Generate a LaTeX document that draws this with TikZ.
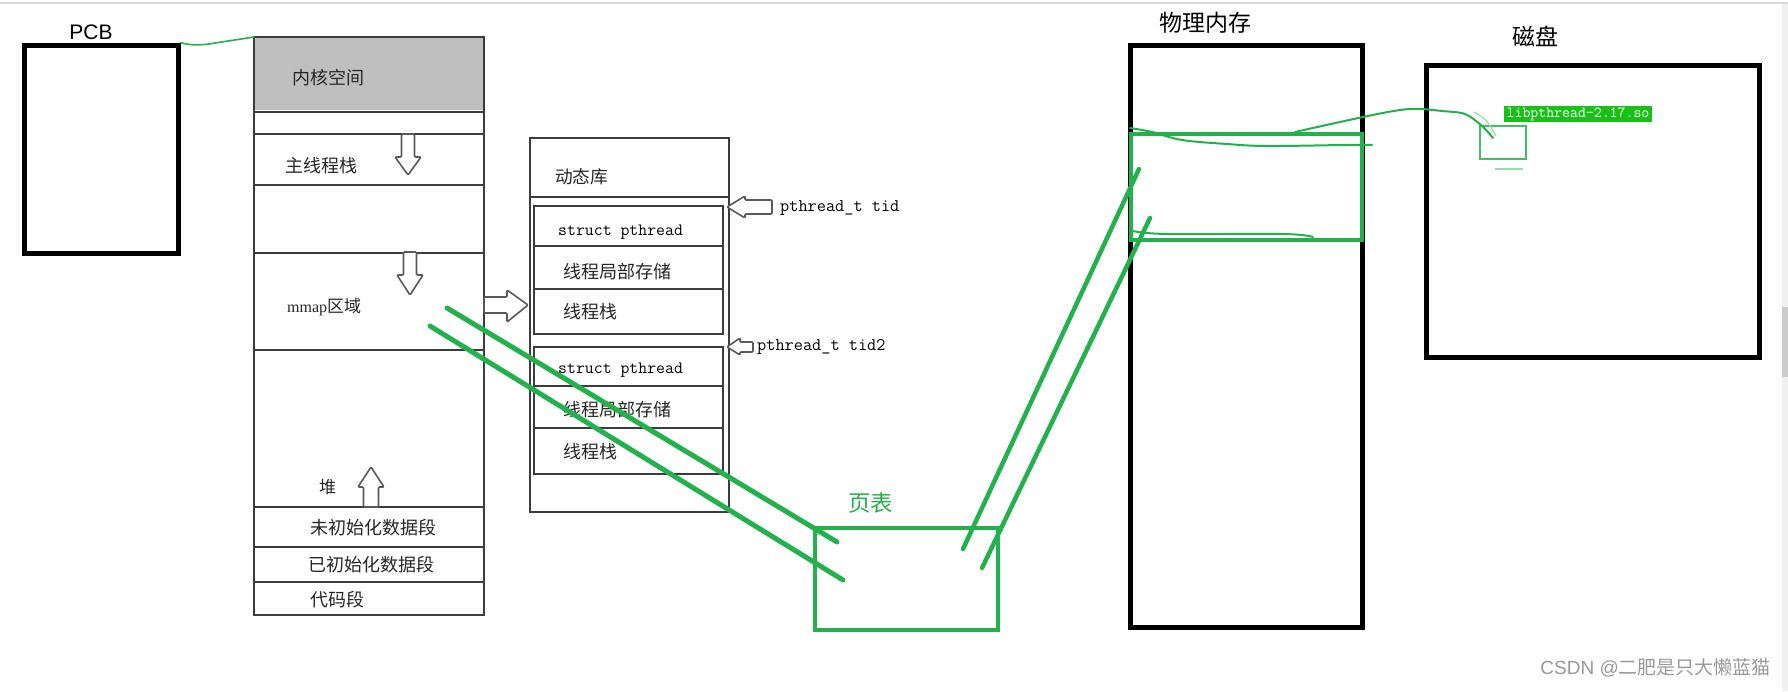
\documentclass[tikz,border=0pt]{standalone}
\usepackage{fontspec}
\setmainfont{Liberation Serif}
\setsansfont{Liberation Sans}
\newfontfamily\cjk{Noto Sans CJK SC}
\definecolor{pgreen}{RGB}{34,177,76}
\definecolor{lblgreen}{RGB}{24,192,24}
\definecolor{faintg}{RGB}{150,220,165}
\definecolor{scangray}{RGB}{60,60,60}
\begin{document}
\begin{tikzpicture}[x=1pt,y=-1pt,
  cn/.style={font=\cjk\fontsize{#1}{#1}\selectfont, text=black!85, inner sep=0pt, anchor=west},
  cn/.default=18,
  mono/.style={font=\ttfamily\fontsize{17.3}{18}\selectfont, text=black, inner sep=0pt, anchor=west},
  scan/.style={draw=scangray, line width=1.8pt},
  harrow/.style={draw=black!65, line width=1.6pt, fill=white, line join=round, rounded corners=1pt},
  thickbox/.style={draw=black, line width=5pt, inner sep=0pt},
  gline/.style={draw=pgreen, line width=4.5pt, line cap=round},
  gthin/.style={draw=pgreen, line width=2pt, line cap=round, line join=round},
  gbox/.style={draw=pgreen, line width=4.5pt, inner sep=0pt},
  head/.style={font=\cjk\fontsize{23}{24}\selectfont, inner sep=0pt}
]
\useasboundingbox (0,0) rectangle (1788,691);
\fill[white] (0,0) rectangle (1788,691);
\draw[black!15, line width=1.5pt] (0,3) -- (1788,3);
\fill[black!6] (1782,4) rectangle (1788,691);
\fill[black!20] (1782,307) rectangle (1788,377);

% ---------- PCB ----------
\node[thickbox, minimum width=154pt, minimum height=208pt] (pcb) at (101,149) {};
\node[font=\sffamily\fontsize{21}{22}\selectfont, inner sep=0pt] (pcbl) at (91,32) {PCB};

% ---------- virtual address space ----------
\fill[black!25] (254,38) rectangle (483,110);
\draw[scan] (254,37) rectangle (484,615);
\draw[scangray, line width=2.6pt] (254,37) -- (484,37);
\foreach \yy in {112,134,185,253,350,507,547,582}
  \draw[scan] (254,\yy) -- (484,\yy);
\coordinate (vtop) at (254,37);
\draw[gthin, line width=1.6pt] (pcb.north east) .. controls (190,46) and (205,45) .. (215,43) -- (vtop);

\node[cn] (kern) at (292,78) {内核空间};
\node[cn] (mstack) at (285,166) {主线程栈};
\node[inner sep=0pt, anchor=west, text=black!85] (mmap) at (287,307)
  {\fontsize{16}{17}\selectfont mmap\cjk\fontsize{17}{17}\selectfont 区域};
\node[cn=17] (heap) at (319,487) {堆};
\node[cn] (bss) at (310,528) {未初始化数据段};
\node[cn] (data) at (308,565) {已初始化数据段};
\node[cn] (text) at (310,600) {代码段};

% hollow arrows
\draw[harrow] (401.5,134) -- (414.5,134) -- (414.5,157) -- (421,157) -- (408,175) -- (395,157) -- (401.5,157) -- cycle;
\draw[harrow] (403.5,252) -- (416.5,252) -- (416.5,275) -- (423,275) -- (410,295) -- (397,275) -- (403.5,275) -- cycle;
\draw[harrow] (363.5,507) -- (378.5,507) -- (378.5,487) -- (384,487) -- (371,467) -- (358,487) -- (363.5,487) -- cycle;
\draw[harrow] (484,297) -- (507,297) -- (507,290) -- (528,305) -- (507,322) -- (507,313) -- (484,313) -- cycle;

% ---------- dynamic library ----------
\draw[scan] (530,138) rectangle (729,512);
\draw[scan] (530,197) -- (729,197);
\draw[scan] (534,206) rectangle (723,334);
\draw[scan] (534,246) -- (723,246);
\draw[scan] (534,289) -- (723,289);
\draw[scan] (534,347) rectangle (723,474);
\draw[scan] (534,386) -- (723,386);
\draw[scan] (534,428) -- (723,428);

\node[cn=17.7] (dyn) at (555,177) {动态库};
\node[mono] (sp1) at (558,232) {struct pthread};
\node[cn] (tls1) at (563,272) {线程局部存储};
\node[cn] (ts1) at (563,312) {线程栈};
\node[mono] (sp2) at (558,370) {struct pthread};
\node[cn] (tls2) at (563,410) {线程局部存储};
\node[cn] (ts2) at (563,452) {线程栈};

\draw[harrow] (727,207) -- (745,196) -- (745,200) -- (772,200) -- (772,214) -- (745,214) -- (745,218) -- cycle;
\draw[harrow] (727,347) -- (740,338) -- (740,342) -- (753,342) -- (753,352) -- (740,352) -- (740,355) -- cycle;
\node[mono, font=\ttfamily\fontsize{17.8}{18}\selectfont] (tid1) at (780,208) {pthread\_t tid};
\node[mono, font=\ttfamily\fontsize{17.8}{18}\selectfont] (tid2) at (757,347) {pthread\_t tid2};

% ---------- page table ----------
\node[gbox, minimum width=183pt, minimum height=102pt] (pt) at (906.5,579) {};
\node[font=\cjk\fontsize{22.5}{23}\selectfont, text=pgreen, inner sep=0pt, anchor=west] (ptl) at (848,503) {页表};

\coordinate (m1) at (447,308);
\coordinate (m2) at (430,326);
\coordinate (p1) at (837,542);
\coordinate (p2) at (843,580);
\draw[gline, line width=5pt] (m1) -- (p1);
\draw[gline, line width=5pt] (m2) -- (p2);

% ---------- physical memory ----------
\node[thickbox, minimum width=232pt, minimum height=582pt] (phys) at (1246.5,336) {};
\node[head] (physl) at (1205,23) {物理内存};
\node[gbox, minimum width=231pt, minimum height=106pt] (pr) at (1246.5,187) {};

\coordinate (q1) at (963,549);
\coordinate (q2) at (982,568);
\coordinate (r1) at (1139,169);
\coordinate (r2) at (1150,218);
\draw[gline] (q1) -- (r1);
\draw[gline] (q2) -- (r2);

\draw[gthin] plot[smooth, tension=0.6] coordinates {(1130,128) (1152,132) (1182,140) (1227,144) (1267,146) (1345,145) (1372,145)};
\draw[gthin] plot[smooth, tension=0.6] coordinates {(1133,231) (1167,234) (1283,234) (1313,237)};

% ---------- disk ----------
\node[thickbox, minimum width=333pt, minimum height=292pt] (disk) at (1593,211.5) {};
\node[head] (diskl) at (1535,36) {磁盘};
\node[fill=lblgreen, text=white, inner sep=0pt, minimum width=148pt, minimum height=16pt,
      font=\ttfamily\fontsize{15.4}{16}\selectfont] (lib) at (1578,114) {libpthread-2.17.so};
\node[draw=pgreen!85, line width=2.5pt, inner sep=0pt, minimum width=46pt, minimum height=33pt] (so) at (1503,142.5) {};
\draw[faintg, line width=1.5pt] (1495,169) -- (1523,169);

\coordinate (c0) at (1295,132);
\coordinate (c9) at (1493,138);
\draw[gthin] plot[smooth, tension=0.55] coordinates {(c0) (1363,117) (1400,110) (1420,109) (1442,111) (1465,114) (1482,126) (c9)};
\draw[faintg, line width=1.2pt] (1474,112) .. controls (1486,119) .. (1496,136);

% ---------- watermark ----------
\node[anchor=east, inner sep=0pt, text=black!40, font=\sffamily\fontsize{19}{20}\selectfont] (wm) at (1771,668)
  {CSDN @{\cjk 二肥是只大懒蓝猫}};
\end{tikzpicture}
\end{document}
